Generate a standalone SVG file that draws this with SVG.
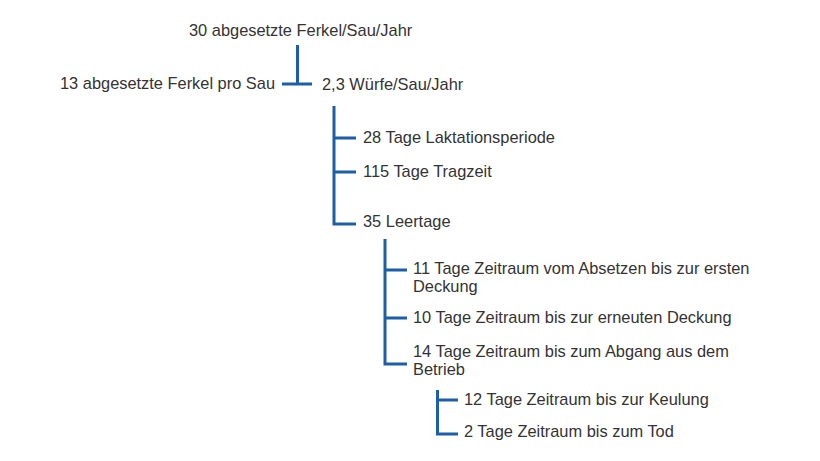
<svg xmlns="http://www.w3.org/2000/svg" width="820" height="461" viewBox="0 0 820 461">
<style>
.t{font-family:"Liberation Sans",Arial,sans-serif;font-size:16.4px;fill:#333333}
.c{fill:none;stroke:#1d5fa6;stroke-width:3;stroke-linejoin:miter;stroke-linecap:butt}
</style>
<rect width="820" height="461" fill="#ffffff"/>
<g id="connectors">
<path class="c" d="M297.5,45 V84 M282,84 H312"/>
<path class="c" d="M334,106 V224 H356 M334,138 H356 M334,172 H356"/>
<path class="c" d="M385,239 V364 H407 M385,270 H407 M385,318 H407"/>
<path class="c" d="M437.5,390 V434 H458 M437.5,400 H458"/>
</g>
<g id="n_root"><text class="t" x="189" y="36">30 abgesetzte Ferkel/Sau/Jahr</text></g>
<g id="n_ferkel"><text class="t" x="60" y="89">13 abgesetzte Ferkel pro Sau</text></g>
<g id="n_wuerfe"><text class="t" x="322" y="90">2,3 Würfe/Sau/Jahr</text></g>
<g id="n_laktation"><text class="t" x="363" y="143">28 Tage Laktationsperiode</text></g>
<g id="n_tragzeit"><text class="t" x="363" y="177">115 Tage Tragzeit</text></g>
<g id="n_leertage"><text class="t" x="363" y="227">35 Leertage</text></g>
<g id="n_absetzen"><text class="t" x="413" y="274">11 Tage Zeitraum vom Absetzen bis zur ersten</text><text class="t" x="413" y="292">Deckung</text></g>
<g id="n_erneut"><text class="t" x="413" y="323">10 Tage Zeitraum bis zur erneuten Deckung</text></g>
<g id="n_abgang"><text class="t" x="413" y="357">14 Tage Zeitraum bis zum Abgang aus dem</text><text class="t" x="413" y="375">Betrieb</text></g>
<g id="n_keulung"><text class="t" x="464" y="405">12 Tage Zeitraum bis zur Keulung</text></g>
<g id="n_tod"><text class="t" x="464" y="437">2 Tage Zeitraum bis zum Tod</text></g>
</svg>
